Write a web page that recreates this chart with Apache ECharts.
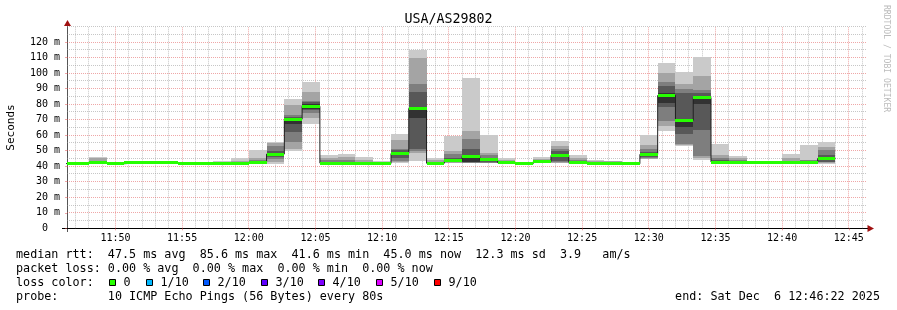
<!DOCTYPE html>
<html><head><meta charset="utf-8">
<script src="https://cdn.jsdelivr.net/npm/echarts@6/dist/echarts.min.js"></script>
<style>html,body{margin:0;padding:0;background:#fff}#c{width:897px;height:310px}</style>
</head><body><div id="c"></div>
<script>
const title = 'USA/AS29802';
const startTime = '11:46:22';
const endTime = '12:46:22';
const STEP = 80; // seconds per RRD step (probe interval)

// end time of each 80 s bin
const binEnd = ['11:46:40','11:48:00','11:49:20','11:50:40','11:52:00','11:53:20','11:54:40','11:56:00',
  '11:57:20','11:58:40','12:00:00','12:01:20','12:02:40','12:04:00','12:05:20','12:06:40','12:08:00',
  '12:09:20','12:10:40','12:12:00','12:13:20','12:14:40','12:16:00','12:17:20','12:18:40','12:20:00',
  '12:21:20','12:22:40','12:24:00','12:25:20','12:26:40','12:28:00','12:29:20','12:30:40','12:32:00',
  '12:33:20','12:34:40','12:36:00','12:37:20','12:38:40','12:40:00','12:41:20','12:42:40','12:44:00'];

// 10 sorted ping RTTs (ms) per bin
const pings = [
  [41.2,41.3,41.4,41.5,41.6,41.8,41.9,42.0,42.1,42.3],
  [41.2,41.3,41.4,41.5,41.6,41.8,42.0,42.2,42.5,43.0],
  [41.5,41.7,41.9,42.0,42.2,42.4,42.7,43.2,45.2,45.8],
  [41.0,41.1,41.2,41.3,41.5,41.7,41.8,41.9,42.0,42.3],
  [41.6,41.8,41.9,42.0,42.2,42.4,42.5,42.6,42.8,43.0],
  [41.6,41.8,41.9,42.0,42.2,42.4,42.5,42.6,42.8,43.1],
  [41.6,41.8,41.9,42.0,42.2,42.4,42.5,42.6,42.8,42.9],
  [41.0,41.1,41.2,41.3,41.5,41.7,41.8,41.9,42.0,42.3],
  [41.0,41.1,41.2,41.3,41.5,41.7,41.9,42.1,42.3,42.8],
  [41.1,41.2,41.3,41.5,41.7,41.9,42.1,42.4,42.8,43.4],
  [41.1,41.2,41.3,41.5,41.7,41.9,42.2,42.7,43.6,45.0],
  [41.4,41.6,41.8,42.0,42.2,42.5,43.0,44.0,45.2,50.2],
  [41.5,43.0,44.6,46.0,47.0,48.5,50.0,53.0,55.0,55.7],
  [49.7,51.0,55.7,62.0,67.0,70.5,71.5,72.8,79.2,83.2],
  [67.2,71.2,74.0,76.5,77.0,79.8,81.5,81.8,87.5,94.0],
  [41.1,41.3,41.5,41.6,41.8,42.5,43.0,44.0,45.0,47.2],
  [41.1,41.2,41.4,41.5,41.7,42.3,43.0,44.0,46.0,47.7],
  [41.0,41.1,41.2,41.3,41.5,41.8,42.3,43.0,44.0,45.8],
  [41.0,41.1,41.2,41.3,41.5,41.7,42.0,42.4,42.8,43.3],
  [42.0,42.5,43.5,45.0,47.5,49.0,50.2,51.0,56.8,61.0],
  [43.5,48.5,49.5,51.0,71.0,77.5,88.0,93.0,110.0,115.0],
  [41.2,41.3,41.5,41.6,41.8,42.2,42.6,43.0,44.0,45.6],
  [42.0,42.3,42.5,42.8,43.0,44.0,45.5,47.6,50.0,59.5],
  [41.8,42.0,42.2,42.4,43.0,46.5,51.0,57.4,62.6,96.7],
  [41.8,42.0,42.3,42.8,43.5,44.5,45.5,47.0,48.7,60.4],
  [41.5,41.7,41.9,42.0,42.2,42.5,42.8,43.3,44.2,45.6],
  [41.0,41.1,41.2,41.3,41.5,41.7,41.8,41.9,42.0,42.2],
  [41.8,42.0,42.2,42.5,42.7,43.0,43.3,43.8,44.5,45.8],
  [41.8,42.0,42.5,43.5,46.0,48.0,49.5,50.8,53.0,56.3],
  [41.6,41.8,42.0,42.2,42.3,42.8,43.2,44.0,45.5,47.2],
  [41.5,41.6,41.7,41.8,41.9,42.2,42.5,42.8,43.3,44.0],
  [41.5,41.6,41.7,41.8,41.9,42.2,42.4,42.7,43.1,43.5],
  [41.0,41.1,41.2,41.3,41.5,41.7,41.8,41.9,42.0,42.2],
  [44.4,44.8,45.3,46.0,47.0,48.2,49.0,51.0,53.6,60.0],
  [62.6,65.8,69.2,78.0,80.4,86.9,91.6,94.2,100.2,106.6],
  [53.0,53.5,54.6,61.0,65.2,70.5,87.0,90.0,93.2,100.8],
  [44.0,45.0,46.5,63.2,80.0,85.0,87.3,89.0,98.0,110.5],
  [42.0,42.1,42.3,42.5,42.8,43.2,44.0,45.0,47.0,54.2],
  [42.0,42.1,42.3,42.5,42.7,43.0,43.5,44.2,45.2,46.5],
  [41.6,41.7,41.8,41.9,42.1,42.3,42.4,42.5,42.6,42.8],
  [41.6,41.7,41.8,41.9,42.1,42.3,42.4,42.5,42.6,42.8],
  [41.6,41.7,41.8,41.9,42.1,42.4,42.8,43.5,45.0,47.7],
  [41.8,42.0,42.2,42.4,42.5,42.8,43.2,43.8,44.3,53.5],
  [41.5,42.0,42.5,43.0,44.0,45.5,47.0,50.3,52.4,55.5]
];

// median RTT (ms) per bin
const medians = [41.7,41.7,42.3,41.6,42.3,42.3,42.3,41.6,41.6,41.8,41.8,42.3,47.8,70.3,78.6,42.0,41.8,41.6,
  41.7,48.2,77.2,41.9,43.5,46.3,44.0,42.3,41.6,42.9,47.0,42.5,42.0,42.0,41.6,47.6,85.6,69.6,84.3,42.7,42.7,
  42.2,42.2,42.2,42.6,45.0];

const xTickLabels = ['11:50','11:55','12:00','12:05','12:10','12:15','12:20','12:25','12:30','12:35','12:40','12:45'];
const yTickValues = [0,10,20,30,40,50,60,70,80,90,100,110,120];
const yMax = 130;

const legendLines = [
  'median rtt:  47.5 ms avg  85.6 ms max  41.6 ms min  45.0 ms now  12.3 ms sd  3.9   am/s',
  'packet loss: 0.00 % avg  0.00 % max  0.00 % min  0.00 % now',
  'loss color:',
  'probe:       10 ICMP Echo Pings (56 Bytes) every 80s'
];
const endText = 'end: Sat Dec  6 12:46:22 2025';
const lossLabels = ['0','1/10','2/10','3/10','4/10','5/10','9/10'];
const lossColors = ['#26ff00','#00b8ff','#0059ff','#5e00ff','#7e00ff','#dd00ff','#ff0000'];
const smokeColors = ['#cacaca','#a4a4a4','#7e7e7e','#585858','#323232'];

const FONT = '"DejaVu Sans Mono", monospace';
const GRID_C = 'rgba(144,144,144,0.5)';
const MGRID_C = 'rgba(224,80,80,0.5)';

const toSec = s => { const p = s.split(':').map(Number); return p[0]*3600 + p[1]*60 + (p[2]||0); };
const fmtHM = v => { const h = Math.floor(v/3600), m = Math.round((v%3600)/60);
  return String(h).padStart(2,'0') + ':' + String(m).padStart(2,'0'); };

const xMin = toSec(startTime), xMax = toSec(endTime);
const smokeData = binEnd.map((t,i) => { const e = toSec(t); return [e - STEP, e].concat(pings[i]); });
const greenData = binEnd.map((t,i) => { const e = toSec(t); return [e - STEP, e, medians[i]]; });
const medLine = binEnd.map((t,i) => [toSec(t) - STEP, medians[i]]);
medLine.push([toSec(binEnd[binEnd.length-1]), medians[medians.length-1]]);

const majorX = xTickLabels.map(toSec);
const minorX = [];
for (let v = Math.ceil(xMin/60)*60; v <= xMax; v += 60) if (v % 300 !== 0) minorX.push(v);
const majorY = yTickValues.filter(v => v > 0);
const minorY = [];
for (let v = 5; v <= yMax; v += 5) if (v % 10 !== 0 || v > yTickValues[yTickValues.length-1]) minorY.push(v);

// [x, y, kind]  kind: 0 minor vertical, 1 minor horizontal, 2 major vertical, 3 major horizontal
const gridData = []
  .concat(minorX.map(v => [v, 0, 0]))
  .concat(minorY.map(v => [xMin, v, 1]))
  .concat(majorX.map(v => [v, 0, 2]))
  .concat(majorY.map(v => [xMin, v, 3]));

const snap = c => Math.round(c - 0.5) + 0.5;
function clampRect(cs, x0, x1) {
  return [Math.max(x0, cs.x), Math.min(x1, cs.x + cs.width)];
}

const chart = echarts.init(document.getElementById('c'), null, {renderer: 'canvas'});

const graphics = [
  {type:'text', x:448.5, y:20, style:{text:title, fontFamily:FONT, fontSize:13.3, fill:'#000', align:'center', verticalAlign:'middle'}},
  {type:'text', x:11, y:127.5, rotation:Math.PI/2, style:{text:'Seconds', fontFamily:FONT, fontSize:11, fill:'#000', align:'center', verticalAlign:'middle'}},
  {type:'text', x:886, y:5, rotation:-Math.PI/2, style:{text:'RRDTOOL / TOBI OETIKER', fontFamily:FONT, fontSize:8.1, fill:'#bbbbbb', align:'left', verticalAlign:'middle'}},
  {type:'line', shape:{x1:62, y1:228.5, x2:67, y2:228.5}, style:{stroke:'#000', lineWidth:1}},
  {type:'line', shape:{x1:867, y1:228.5, x2:870, y2:228.5}, style:{stroke:'#000', lineWidth:1}},
  {type:'line', shape:{x1:67.5, y1:228, x2:67.5, y2:232}, style:{stroke:'#555', lineWidth:1}},
  {type:'line', shape:{x1:67.5, y1:27, x2:67.5, y2:23}, style:{stroke:'#555', lineWidth:1}},
  {type:'polygon', shape:{points:[[64,26],[71,26],[67.5,20]]}, style:{fill:'#a01010'}},
  {type:'polygon', shape:{points:[[867.5,225],[867.5,232],[874,228.5]]}, style:{fill:'#a01010'}}
];
const lineY = [255, 268.5, 282.5, 296.5];
legendLines.forEach((t,i) => graphics.push({type:'text', x:16, y:lineY[i],
  style:{text:t, fontFamily:FONT, fontSize:11.74, fill:'#000', align:'left', verticalAlign:'middle'}}));
graphics.push({type:'text', x:880, y:lineY[3], style:{text:endText, fontFamily:FONT, fontSize:11.74, fill:'#000', align:'right', verticalAlign:'middle'}});
const boxX = [109, 146, 203, 261, 318, 376, 434];
lossLabels.forEach((t,i) => {
  graphics.push({type:'rect', shape:{x:boxX[i]+0.5, y:279.5, width:6, height:6}, style:{fill:lossColors[i], stroke:'#000', lineWidth:1}});
  graphics.push({type:'text', x:boxX[i]+14.5, y:lineY[2], style:{text:t, fontFamily:FONT, fontSize:11.74, fill:'#000', align:'left', verticalAlign:'middle'}});
});

chart.setOption({
  backgroundColor:'#ffffff',
  animation:false,
  grid:{left:67, right:30, top:26.5, bottom:81.7, outerBoundsMode:'none'},
  xAxis:{
    type:'value', min:xMin, max:xMax,
    axisLine:{show:true, lineStyle:{color:'#000', width:1}},
    axisTick:{show:true, customValues:majorX, length:2, lineStyle:{color:MGRID_C}},
    axisLabel:{customValues:majorX, formatter:v => fmtHM(v), fontFamily:FONT, fontSize:10, color:'#000', margin:5},
    splitLine:{show:false}
  },
  yAxis:{
    type:'value', min:0, max:yMax,
    axisLine:{show:true, lineStyle:{color:'#555', width:1}},
    axisTick:{show:true, customValues:yTickValues, length:2, lineStyle:{color:MGRID_C}},
    axisLabel:{customValues:yTickValues, formatter:v => v === 0 ? '0  ' : v + ' m', fontFamily:FONT, fontSize:10, color:'#000', margin:7},
    splitLine:{show:false}
  },
  graphic:graphics,
  series:[
    {
      type:'custom', name:'grid', data:gridData, z:1, silent:true,
      encode:{x:0, y:1},
      renderItem:(params, api) => {
        const cs = params.coordSys;
        const kind = api.value(2);
        const p = api.coord([api.value(0), api.value(1)]);
        let shape;
        if (kind % 2 === 0) {
          const x = snap(p[0]);
          shape = {x1:x, y1:cs.y + cs.height, x2:x, y2:cs.y};
        } else {
          const y = snap(p[1]);
          shape = {x1:cs.x, y1:y, x2:cs.x + cs.width, y2:y};
        }
        return {type:'line', shape, style:{stroke: kind >= 2 ? MGRID_C : GRID_C, lineWidth:1, lineDash:[1,1]}};
      }
    },
    {
      type:'custom', name:'smoke', data:smokeData, z:2, silent:true,
      encode:{x:[0,1], y:[2,3,4,5,6,7,8,9,10,11]},
      renderItem:(params, api) => {
        const cs = params.coordSys;
        const t0 = api.value(0), t1 = api.value(1);
        const children = [];
        for (let k = 0; k < 5; k++) {
          const lo = api.value(2+k), hi = api.value(11-k);
          const a = api.coord([t0, hi]), b = api.coord([t1, lo]);
          const [x0, x1] = clampRect(cs, Math.round(a[0]), Math.round(b[0]));
          const y0 = Math.round(a[1]), y1 = Math.round(b[1]);
          if (x1 <= x0) continue;
          children.push({type:'rect', shape:{x:x0, y:y0, width:x1-x0, height:Math.max(1, y1-y0)}, style:{fill:smokeColors[k]}});
        }
        return {type:'group', children};
      }
    },
    {
      type:'line', name:'median', data:medLine, step:'end', z:3, silent:true, showSymbol:false,
      lineStyle:{color:'#202020', width:1}
    },
    {
      type:'custom', name:'loss 0', data:greenData, z:4, silent:true,
      encode:{x:[0,1], y:2},
      renderItem:(params, api) => {
        const cs = params.coordSys;
        const a = api.coord([api.value(0), api.value(2)]), b = api.coord([api.value(1), api.value(2)]);
        const [x0, x1] = clampRect(cs, Math.round(a[0]), Math.round(b[0]));
        return {type:'rect', shape:{x:x0, y:Math.round(a[1]-1.5), width:x1-x0, height:3}, style:{fill:lossColors[0]}};
      }
    }
  ]
});
</script></body></html>
